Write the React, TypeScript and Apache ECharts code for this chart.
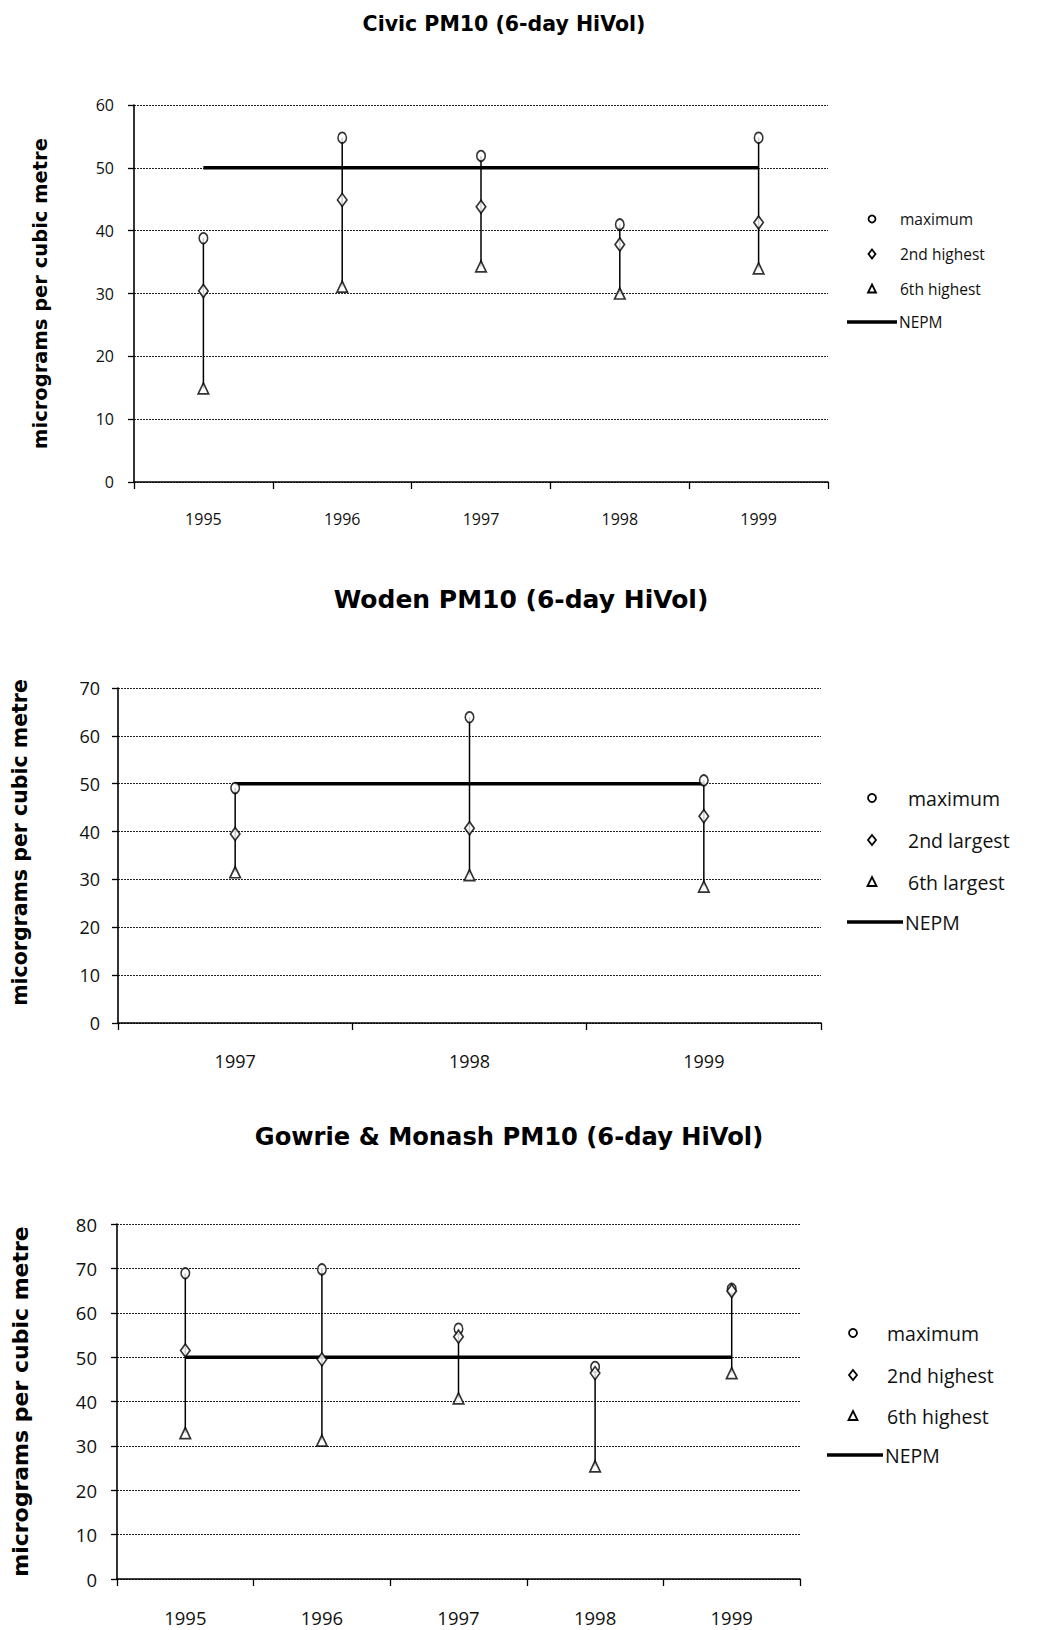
import React, { useEffect, useRef } from "react";
import * as echarts from "echarts";

// ---- Data ----
const civicYears = ["1995", "1996", "1997", "1998", "1999"];
const civicMax = [38.8, 54.8, 51.9, 41.0, 54.8];
const civic2nd = [30.4, 44.9, 43.8, 37.8, 41.3];
const civic6th = [14.9, 31.1, 34.3, 30.0, 34.0];

const wodenYears = ["1997", "1998", "1999"];
const wodenMax = [49.1, 63.9, 50.7];
const woden2nd = [39.5, 40.7, 43.2];
const woden6th = [31.5, 30.9, 28.5];

const gowrieYears = ["1995", "1996", "1997", "1998", "1999"];
const gowrieMax = [68.9, 69.8, 56.4, 47.8, 65.4];
const gowrie2nd = [51.5, 49.5, 54.6, 46.4, 64.9];
const gowrie6th = [32.9, 31.2, 40.7, 25.4, 46.4];

const NEPM = 50;

const civicLegend = ["maximum", "2nd highest", "6th highest", "NEPM"];
const wodenLegend = ["maximum", "2nd largest", "6th largest", "NEPM"];
const gowrieLegend = ["maximum", "2nd highest", "6th highest", "NEPM"];

const titles = [
  "Civic PM10 (6-day HiVol)",
  "Woden PM10 (6-day HiVol)",
  "Gowrie & Monash PM10 (6-day HiVol)",
];
const yNames = [
  "micrograms per cubic metre",
  "micorgrams per cubic metre",
  "micrograms per cubic metre",
];
const yMax = [60, 70, 80];

const TICK_FONT = "'Open Sans', 'DejaVu Sans', sans-serif";
const BOLD_FONT = "'DejaVu Sans', Verdana, sans-serif";

export default function App() {
  const ref = useRef<HTMLDivElement>(null);

  useEffect(() => {
    if (!ref.current) return;
    const chart = echarts.init(ref.current, undefined, { renderer: "svg" });

    const charts = [
      { years: civicYears, max: civicMax, s2: civic2nd, s6: civic6th, legend: civicLegend },
      { years: wodenYears, max: wodenMax, s2: woden2nd, s6: woden6th, legend: wodenLegend },
      { years: gowrieYears, max: gowrieMax, s2: gowrie2nd, s6: gowrie6th, legend: gowrieLegend },
    ];

    const grids = [
      { left: 134, top: 105, width: 694, height: 377 },
      { left: 118, top: 688, width: 703, height: 335 },
      { left: 117, top: 1224, width: 683, height: 355 },
    ];
    const tickFont = [16, 18, 18.5];
    const nameFont = [19.5, 20.5, 22];
    const nameGap = [84, 88, 86];
    const namePad = [
      [0, 0, 0, 0],
      [0, 0, 0, 26],
      [0, 0, 0, 0],
    ];
    const titleCfg = [
      { x: 499, y: 8, size: 20.5 },
      { x: 516, y: 582, size: 25 },
      { x: 504, y: 1120, size: 24.2 },
    ];

    const xAxis: any[] = [];
    const yAxis: any[] = [];
    const series: any[] = [];
    const title: any[] = [];
    const graphic: any[] = [];

    charts.forEach((c, i) => {
      title.push({
        text: titles[i],
        left: titleCfg[i].x,
        top: titleCfg[i].y,
        textAlign: "center",
        textStyle: {
          fontFamily: BOLD_FONT,
          fontWeight: "bold",
          fontSize: titleCfg[i].size,
          color: "#000",
        },
      });
      xAxis.push({
        type: "category",
        gridIndex: i,
        data: c.years,
        boundaryGap: true,
        axisLine: { show: true, lineStyle: { color: "#000", width: 1.6 } },
        axisTick: { show: true, length: 7, lineStyle: { color: "#000", width: 1.3 } },
        axisLabel: {
          margin: i === 0 ? 29 : 29,
          fontFamily: TICK_FONT,
          fontSize: tickFont[i],
          color: "#111",
        },
        splitLine: { show: false },
      });
      yAxis.push({
        type: "value",
        gridIndex: i,
        min: 0,
        max: yMax[i],
        interval: 10,
        name: yNames[i],
        nameLocation: "middle",
        nameGap: nameGap[i],
        nameTextStyle: {
          fontFamily: BOLD_FONT,
          fontWeight: "bold",
          fontSize: nameFont[i],
          color: "#000",
          padding: namePad[i],
        },
        axisLine: { show: true, lineStyle: { color: "#000", width: 1.6 } },
        axisTick: { show: true, length: 6, lineStyle: { color: "#000", width: 1.3 } },
        axisLabel: {
          margin: i === 1 ? 18 : 20,
          fontFamily: TICK_FONT,
          fontSize: tickFont[i],
          color: "#111",
        },
        splitLine: {
          show: true,
          lineStyle: { color: "#222", width: 1, type: [2, 1] },
        },
      });

      const names = c.legend;
      // high-low lines
      series.push({
        type: "custom",
        xAxisIndex: i,
        yAxisIndex: i,
        z: 1,
        data: c.years.map((_, k) => [
          k,
          Math.max(c.max[k], c.s2[k], c.s6[k]),
          Math.min(c.max[k], c.s2[k], c.s6[k]),
        ]),
        encode: { x: 0, y: [1, 2] },
        renderItem: (_p: any, api: any) => {
          const a = api.coord([api.value(0), api.value(1)]);
          const b = api.coord([api.value(0), api.value(2)]);
          return {
            type: "line",
            shape: { x1: a[0], y1: a[1], x2: b[0], y2: b[1] },
            style: { stroke: "#000", lineWidth: 1.5 },
          };
        },
      });
      series.push({
        type: "line",
        name: names[3],
        xAxisIndex: i,
        yAxisIndex: i,
        z: 2,
        data: c.years.map(() => NEPM),
        symbol: "none",
        lineStyle: { color: "#000", width: 3.5 },
        silent: true,
      });
      const markerStyle = { color: "#fff", borderColor: "#000", borderWidth: 1.7 };
      series.push({
        type: "scatter",
        name: names[0],
        xAxisIndex: i,
        yAxisIndex: i,
        z: 3,
        symbol: "circle",
        symbolSize: [8.5, 10.5],
        itemStyle: markerStyle,
        data: c.max,
      });
      series.push({
        type: "scatter",
        name: names[1],
        xAxisIndex: i,
        yAxisIndex: i,
        z: 3,
        symbol: "diamond",
        symbolSize: [9.5, 13],
        itemStyle: markerStyle,
        data: c.s2,
      });
      series.push({
        type: "scatter",
        name: names[2],
        xAxisIndex: i,
        yAxisIndex: i,
        z: 3,
        symbol: "triangle",
        symbolSize: [10.5, 11],
        itemStyle: markerStyle,
        data: c.s6,
      });
    });

    // legends drawn as graphic elements
    const legendLayout = [
      { mx: 872, tx: 900, rows: [219, 254, 289, 322], lx1: 847, lx2: 897, font: 15.5, r: 3.5 },
      { mx: 872, tx: 908, rows: [798, 840, 882, 922], lx1: 847, lx2: 903, font: 19.5, r: 4 },
      { mx: 853, tx: 887, rows: [1333, 1375, 1416, 1455], lx1: 827, lx2: 883, font: 19.5, r: 4 },
    ];
    charts.forEach((c, i) => {
      const L = legendLayout[i];
      const st = { fill: "#fff", stroke: "#000", lineWidth: 1.8 };
      const r = L.r;
      graphic.push({
        type: "circle",
        shape: { cx: L.mx, cy: L.rows[0], r },
        style: st,
      });
      graphic.push({
        type: "polygon",
        shape: {
          points: [
            [L.mx, L.rows[1] - r - 1],
            [L.mx + r, L.rows[1]],
            [L.mx, L.rows[1] + r + 1],
            [L.mx - r, L.rows[1]],
          ],
        },
        style: st,
      });
      graphic.push({
        type: "polygon",
        shape: {
          points: [
            [L.mx, L.rows[2] - r - 1],
            [L.mx + r + 0.5, L.rows[2] + r],
            [L.mx - r - 0.5, L.rows[2] + r],
          ],
        },
        style: st,
      });
      graphic.push({
        type: "line",
        shape: { x1: L.lx1, y1: L.rows[3], x2: L.lx2, y2: L.rows[3] },
        style: { stroke: "#000", lineWidth: 3.5 },
      });
      c.legend.forEach((name, k) => {
        graphic.push({
          type: "text",
          x: k === 3 ? L.lx2 + 2 : L.tx,
          y: L.rows[k],
          style: {
            text: name,
            fontFamily: TICK_FONT,
            fontSize: L.font,
            fill: "#111",
            textVerticalAlign: "middle",
            verticalAlign: "middle",
          },
        });
      });
    });

    chart.setOption({
      animation: false,
      backgroundColor: "#fff",
      title,
      grid: grids.map((g) => ({ ...g, containLabel: false })),
      xAxis,
      yAxis,
      series,
      graphic,
    });

    return () => chart.dispose();
  }, []);

  return (
    <div
      ref={ref}
      style={{ position: "absolute", left: 0, top: 0, width: 1037, height: 1630 }}
    />
  );
}
